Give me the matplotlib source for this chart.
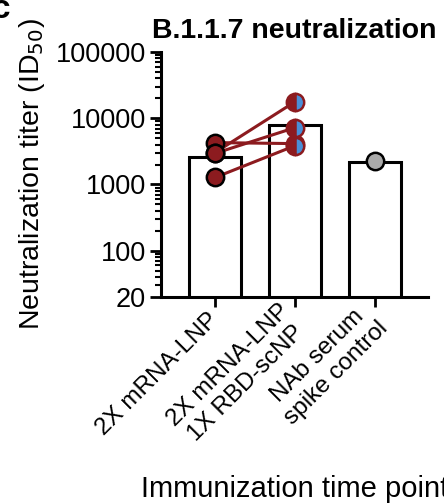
import matplotlib
matplotlib.use('Agg')
import matplotlib.pyplot as plt
import numpy as np
from matplotlib.ticker import LogLocator, NullFormatter

plt.rcParams['font.family'] = ['Liberation Sans', 'DejaVu Sans']

# Data
groups = ['2X mRNA-LNP', '2X mRNA-LNP\n1X RBD-scNP', 'NAb serum\nspike control']
bar_heights = [2640, 7820, 2170]
pre_boost = [4290, 3030, 2950, 1275]      # 2X mRNA-LNP animals
post_boost = [4140, 17800, 7220, 3860]    # same animals after RBD-scNP boost
control = [2240]

red = '#8c1b1f'
blue = '#4a8fd6'
grey = '#aaaaaa'

fig = plt.figure(figsize=(4.44, 5.03), dpi=100)
ax = fig.add_axes([0.3626, 0.4095, 0.6014, 0.4871])

x = np.arange(len(groups))
ax.bar(x, bar_heights, width=0.65, color='white', edgecolor='black',
       linewidth=2.2, zorder=1)

# paired lines
for a, b in zip(pre_boost, post_boost):
    ax.plot([0, 1], [a, b], color=red, linewidth=2.2, zorder=2)

ax.plot(np.zeros(len(pre_boost)), pre_boost, 'o', markersize=12.5,
        markerfacecolor=red, markeredgecolor='black', markeredgewidth=1.8,
        zorder=3, linestyle='none')
ax.plot(np.ones(len(post_boost)), post_boost, 'o', markersize=12.5,
        fillstyle='left', markerfacecolor=red, markerfacecoloralt=blue,
        markeredgecolor=red, markeredgewidth=1.8, zorder=3, linestyle='none')
ax.plot(np.full(len(control), 2), control, 'o', markersize=12.5,
        markerfacecolor=grey, markeredgecolor='black', markeredgewidth=1.8,
        zorder=3, linestyle='none')

ax.set_yscale('log')
ax.set_ylim(20, 100000)
ax.set_xlim(-0.675, 2.66)
ax.set_yticks([20, 100, 1000, 10000, 100000])
ax.set_yticklabels(['20', '100', '1000', '10000', '100000'])
ax.yaxis.set_minor_locator(LogLocator(base=10, subs=np.arange(2, 10)))
ax.yaxis.set_minor_formatter(NullFormatter())

ax.set_xticks(x)
ax.set_xticklabels(groups, rotation=45, ha='right', va='center',
                   rotation_mode='anchor', multialignment='center', fontsize=17.5)

ax.spines['top'].set_visible(False)
ax.spines['right'].set_visible(False)
ax.spines['left'].set_linewidth(2.2)
ax.spines['bottom'].set_linewidth(2.2)
ax.tick_params(axis='y', which='major', length=8, width=2, labelsize=19.5, pad=3)
ax.tick_params(axis='y', which='minor', length=4, width=1.5)
ax.tick_params(axis='x', length=7, width=2, pad=7)

ax.set_ylabel('Neutralization titer (ID$_{50}$)', fontsize=20.5, labelpad=6)
ax.set_xlabel('Immunization time point', fontsize=21, labelpad=19)
ax.set_title('B.1.1.7 neutralization', fontsize=20.5, fontweight='bold', pad=10)

fig.text(-0.018, 1.012, 'c', fontsize=24, fontweight='bold', va='top')

fig.savefig('out.png', dpi=100)
